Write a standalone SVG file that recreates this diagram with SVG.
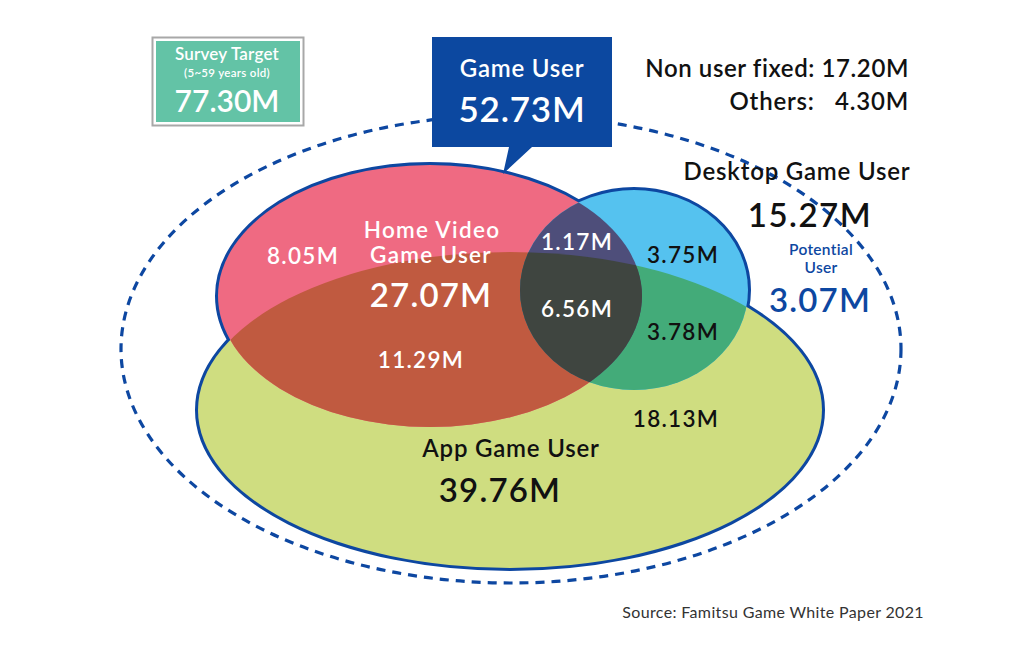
<svg xmlns="http://www.w3.org/2000/svg" width="1024" height="649" viewBox="0 0 1024 649">
<style>
text{font-family:Lato,"Open Sans","Liberation Sans",sans-serif;font-weight:600;text-anchor:middle}
.w{fill:#ffffff}
.k{fill:#111111}
.b{fill:#0d47a1}
.s22{font-size:24px;letter-spacing:0.8px}
.mid{font-size:22.5px;letter-spacing:1.3px}
.big{font-size:33px;letter-spacing:1.2px}
.end{text-anchor:end}
</style>
<defs>
<clipPath id="cPink"><ellipse cx="430" cy="296" rx="212" ry="131"/></clipPath>
<clipPath id="cBlue"><ellipse cx="634" cy="290" rx="114" ry="100"/></clipPath>
</defs>
<rect width="1024" height="649" fill="#ffffff"/>

<g id="survey-boundary">
<ellipse cx="511" cy="349" rx="390" ry="234" fill="none" stroke="#0d47a1" stroke-width="3.2" stroke-dasharray="9 7"/>
</g>

<g id="venn-outline">
<ellipse cx="510" cy="410" rx="312" ry="158" fill="none" stroke="#0d47a1" stroke-width="6"/>
<ellipse cx="430" cy="296" rx="212" ry="131" fill="none" stroke="#0d47a1" stroke-width="6"/>
<ellipse cx="634" cy="290" rx="114" ry="100" fill="none" stroke="#0d47a1" stroke-width="6"/>
</g>

<g id="app-game-user">
<ellipse cx="510" cy="410" rx="312" ry="158" fill="#cfdd80"/>
</g>
<g id="home-video-game-user">
<ellipse cx="430" cy="296" rx="212" ry="131" fill="#ef6a82"/>
</g>
<g id="desktop-game-user">
<ellipse cx="634" cy="290" rx="114" ry="100" fill="#55c2ef"/>
</g>
<g id="intersections">
<ellipse cx="510" cy="410" rx="312" ry="158" fill="#c05a40" clip-path="url(#cPink)"/>
<ellipse cx="510" cy="410" rx="312" ry="158" fill="#43ab79" clip-path="url(#cBlue)"/>
<ellipse cx="634" cy="290" rx="114" ry="100" fill="#4e4e7a" clip-path="url(#cPink)"/>
<g clip-path="url(#cBlue)">
<ellipse cx="510" cy="410" rx="312" ry="158" fill="#3f4540" clip-path="url(#cPink)"/>
</g>
</g>

<g id="region-labels">
<text class="w mid" x="432" y="238">Home Video</text>
<text class="w mid" x="431" y="263">Game User</text>
<text class="w big" x="431" y="307">27.07M</text>
<text class="w mid" x="303" y="264">8.05M</text>
<text class="w mid" x="577" y="250">1.17M</text>
<text class="k mid" x="683" y="263">3.75M</text>
<text class="w mid" x="577" y="317">6.56M</text>
<text class="k mid" x="683" y="340">3.78M</text>
<text class="w mid" x="421" y="368">11.29M</text>
<text class="k mid" x="676" y="427">18.13M</text>
<text class="k s22" x="511" y="457">App Game User</text>
<text class="k big" x="500" y="502">39.76M</text>
</g>

<g id="survey-target">
<rect x="152.5" y="37.5" width="151" height="88" fill="#ffffff" stroke="#a8a8a8" stroke-width="2"/>
<rect x="156" y="41" width="144" height="81" fill="#63c3a6"/>
<text class="w" x="227" y="60" style="font-size:17px;letter-spacing:0.2px">Survey Target</text>
<text class="w" x="227" y="77" style="font-size:11.5px;letter-spacing:0.3px">(5~59 years old)</text>
<text class="w" x="227" y="112" style="font-size:30px">77.30M</text>
</g>

<g id="game-user">
<path d="M432 37 H612 V147 H532 L503 174 L509 147 H432 Z" fill="#0c48a0"/>
<text class="w s22" x="522" y="77">Game User</text>
<text class="w" x="522" y="122" style="font-size:35px;letter-spacing:0.8px">52.73M</text>
</g>

<g id="non-user">
<text class="k s22 end" x="909" y="77" style="letter-spacing:0.6px">Non user fixed: 17.20M</text>
<text class="k s22 end" x="909" y="110" xml:space="preserve">Others:   4.30M</text>
</g>

<g id="desktop-label">
<text class="k s22" x="797" y="180">Desktop Game User</text>
<text class="k" x="810" y="227" style="font-size:33px;letter-spacing:1.5px">15.27M</text>
</g>

<g id="potential-user">
<text class="b" x="821" y="255" style="font-size:15.5px;letter-spacing:0.3px">Potential</text>
<text class="b" x="821" y="273" style="font-size:15.5px;letter-spacing:0.3px">User</text>
<text class="b" x="820" y="312" style="font-size:33px;letter-spacing:1.2px">3.07M</text>
</g>

<text x="924" y="618" style="font-weight:400;font-size:16px;letter-spacing:0.35px;fill:#333333;text-anchor:end">Source: Famitsu Game White Paper 2021</text>
</svg>
